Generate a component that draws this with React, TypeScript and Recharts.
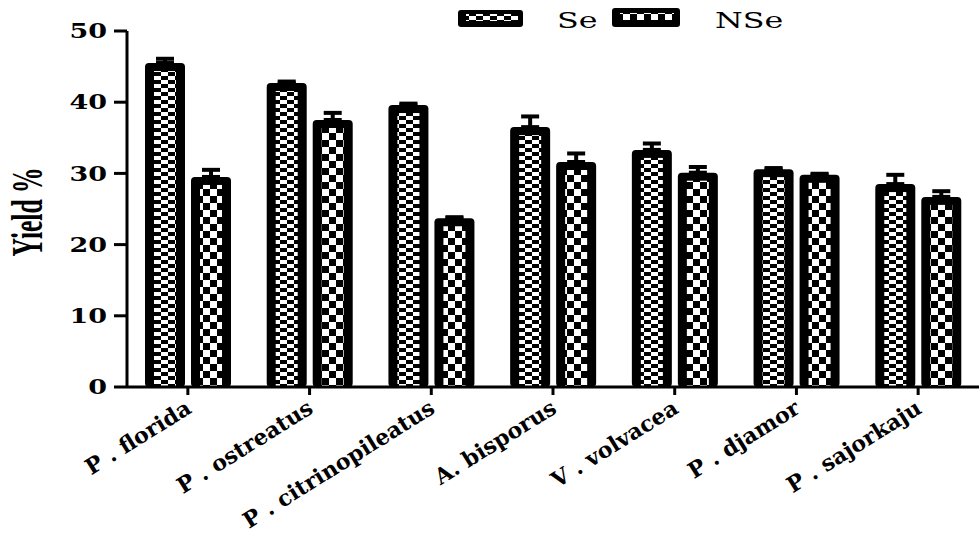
import { BarChart, Bar, XAxis, YAxis, ErrorBar } from 'recharts'

// mushroom species
const species = [
  'P . florida',
  'P . ostreatus',
  'P . citrinopileatus',
  'A. bisporus',
  'V . volvacea',
  'P . djamor',
  'P . sajorkaju',
]

// yield % with selenium
const seValues = [45.5, 42.7, 39.6, 36.5, 33.3, 30.6, 28.5]
const seErrors = [0.6, 0.2, 0.2, 1.5, 0.9, 0.15, 1.3]

// yield % without selenium
const nseValues = [29.5, 37.5, 23.7, 31.6, 30.1, 29.8, 26.7]
const nseErrors = [1.0, 1.0, 0.15, 1.2, 0.8, 0.15, 0.8]

const yTicks = [0, 10, 20, 30, 40, 50]

const data = species.map((name, i) => ({
  name,
  se: seValues[i],
  seErr: [0, seErrors[i]],
  nse: nseValues[i],
  nseErr: [0, nseErrors[i]],
}))

function Patterns({ prefix }: { prefix: string }) {
  return (
    <defs>
      <pattern id={`${prefix}Se`} patternUnits="userSpaceOnUse" width={14} height={8}>
        <rect width={14} height={8} fill="#fff" />
        <rect x={0} y={0} width={7} height={4} fill="#000" />
        <rect x={7} y={4} width={7} height={4} fill="#000" />
      </pattern>
      <pattern id={`${prefix}NSe`} patternUnits="userSpaceOnUse" width={14} height={14}>
        <rect width={14} height={14} fill="#fff" />
        <rect x={0} y={0} width={7} height={7} fill="#000" />
        <rect x={7} y={7} width={7} height={7} fill="#000" />
      </pattern>
    </defs>
  )
}

// black framed bar with a checker pattern inside
function PatternBar(props: any) {
  const { x, y, width, height, patternId } = props
  if (!height || height <= 0) return null
  return (
    <g>
      <rect x={x} y={y} width={width} height={height} rx={4} fill="#000" />
      <rect
        x={x + 9}
        y={y + 8}
        width={width - 18}
        height={Math.max(height - 8, 0)}
        fill={`url(#${patternId})`}
      />
    </g>
  )
}

function YTick({ x, y, payload }: any) {
  return (
    <text
      transform={`translate(${x},${y}) scale(1.35,1)`}
      textAnchor="end"
      dy="0.36em"
      fontFamily="DejaVu Serif"
      fontWeight="bold"
      fontSize={20}
      fill="#000"
    >
      {payload.value}
    </text>
  )
}

function XTick({ x, y, payload }: any) {
  return (
    <text
      transform={`translate(${x + 5},${y + 15}) rotate(-32)`}
      textAnchor="end"
      fontFamily="DejaVu Serif"
      fontWeight="bold"
      fontSize={22}
      fill="#000"
    >
      {payload.value}
    </text>
  )
}

function YLabel() {
  return (
    <text
      transform="translate(42,212) rotate(-90) scale(0.58,1)"
      textAnchor="middle"
      fontFamily="Liberation Serif"
      fontWeight="bold"
      fontSize={44}
      fill="#000"
    >
      Yield %
    </text>
  )
}

function LegendBox() {
  return (
    <svg width={979} height={40} style={{ position: 'absolute', left: 0, top: 0 }}>
      <Patterns prefix="lg" />
      <rect x={458} y={10} width={65} height={17} rx={3} fill="#000" />
      <rect x={466} y={14} width={52} height={7} fill="url(#lgSe)" />
      <text
        transform="translate(557,28) scale(1.38,1)"
        fontFamily="DejaVu Serif"
        fontSize={23}
        fill="#000"
      >
        Se
      </text>
      <rect x={612} y={8} width={68} height={19} rx={3} fill="#000" />
      <rect x={620} y={13} width={54} height={7} fill="url(#lgNSe)" />
      <text
        transform="translate(715,28) scale(1.38,1)"
        fontFamily="DejaVu Serif"
        fontSize={23}
        fill="#000"
      >
        NSe
      </text>
    </svg>
  )
}

export default function App() {
  return (
    <div style={{ position: 'absolute', left: 0, top: 0, width: 979, height: 546, background: '#fff' }}>
      <BarChart
        width={979}
        height={546}
        data={data}
        margin={{ top: 31, right: 0, bottom: 0, left: 0 }}
        barCategoryGap={18}
        barGap={6}
      >
        <Patterns prefix="bar" />
        <XAxis
          dataKey="name"
          height={159}
          interval={0}
          axisLine={{ stroke: '#000', strokeWidth: 3 }}
          tickLine={{ stroke: '#000', strokeWidth: 3 }}
          tickSize={8}
          tick={<XTick />}
        />
        <YAxis
          width={127}
          domain={[0, 50]}
          ticks={yTicks}
          axisLine={{ stroke: '#000', strokeWidth: 3 }}
          tickLine={{ stroke: '#000', strokeWidth: 3 }}
          tickSize={13}
          tickMargin={7}
          tick={<YTick />}
          label={<YLabel />}
        />
        <Bar
          dataKey="se"
          isAnimationActive={false}
          shape={(p: any) => <PatternBar {...p} patternId="barSe" />}
        >
          <ErrorBar dataKey="seErr" width={9} strokeWidth={4} stroke="#000" direction="y" />
        </Bar>
        <Bar
          dataKey="nse"
          isAnimationActive={false}
          shape={(p: any) => <PatternBar {...p} patternId="barNSe" />}
        >
          <ErrorBar dataKey="nseErr" width={9} strokeWidth={4} stroke="#000" direction="y" />
        </Bar>
      </BarChart>
      <LegendBox />
    </div>
  )
}
